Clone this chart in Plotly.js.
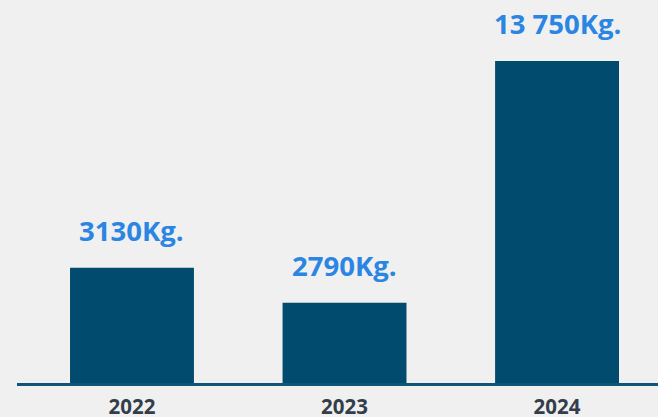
<!DOCTYPE html>
<html>
<head>
<meta charset="utf-8">
<script src="https://cdn.plot.ly/plotly-3.0.1.min.js"></script>
<style>
html,body{margin:0;padding:0;background:#f0f0f0;}
#chart{width:658px;height:417px;}
</style>
</head>
<body>
<div id="chart"></div>
<script>
// Categories (years)
const years = ['2022', '2023', '2024'];
// Label values shown above bars (kg)
const labelValues = ['3130Kg.', '2790Kg.', '13 750Kg.'];
// Bar heights as drawn in the picture (same scale as 2024 = 13750)
const barHeights = [4920, 3430, 13750];

const trace = {
  type: 'bar',
  x: years,
  y: barHeights,
  marker: {color: '#004b6e'},
  width: 0.583,
  hoverinfo: 'skip'
};

const annotations = years.map((yr, i) => ({
  x: i,
  y: barHeights[i],
  xref: 'x',
  yref: 'y',
  text: '<b>' + labelValues[i] + '</b>',
  showarrow: false,
  xanchor: 'center',
  yanchor: 'bottom',
  yshift: 17,
  font: {family: 'Open Sans, sans-serif', size: 27.5, color: '#2b85e2'}
}));

const layout = {
  width: 658,
  height: 417,
  margin: {l: 17, r: 0, t: 0, b: 34},
  paper_bgcolor: '#f0f0f0',
  plot_bgcolor: '#f0f0f0',
  showlegend: false,
  bargap: 0.4,
  xaxis: {
    type: 'category',
    range: [-0.541, 2.475],
    showline: true,
    linecolor: '#0f5578',
    linewidth: 3,
    showgrid: false,
    zeroline: false,
    ticks: '',
    ticklabelstandoff: 3,
    tickfont: {family: 'Open Sans, sans-serif', size: 20.5, color: '#333e4a', weight: 700},
    fixedrange: true
  },
  yaxis: {
    range: [0, 13750 * 383 / 322],
    showticklabels: false,
    showline: false,
    ticks: '',
    showgrid: false,
    zeroline: false,
    fixedrange: true
  },
  annotations: annotations
};

Plotly.newPlot('chart', [trace], layout, {displayModeBar: false, staticPlot: true});
</script>
</body>
</html>
